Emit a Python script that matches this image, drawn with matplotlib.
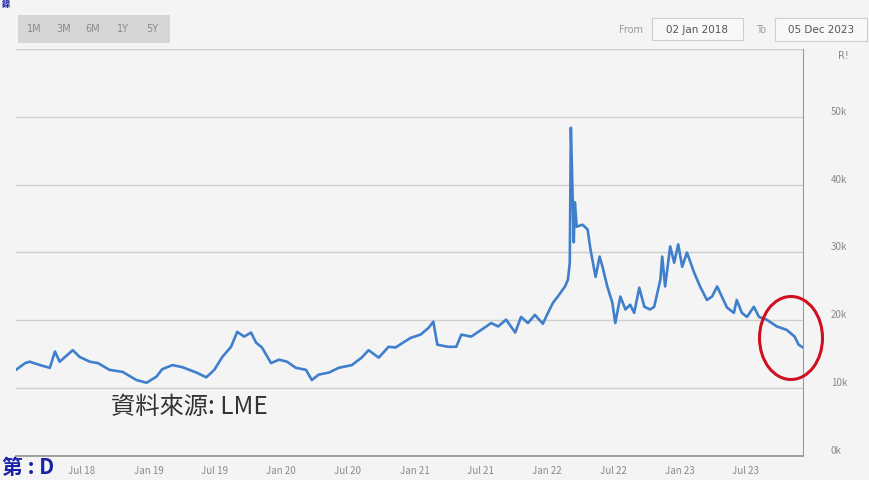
import matplotlib
matplotlib.use('Agg')
import matplotlib.pyplot as plt
from matplotlib.patches import Ellipse, Rectangle
import pandas as pd

plt.rcParams['font.family'] = ['Noto Sans CJK TC', 'DejaVu Sans']

# LME nickel price (USD/t)
dates = [
    '2018-01-02', '2018-01-27', '2018-02-09', '2018-03-09', '2018-04-05', '2018-04-19',
    '2018-05-02', '2018-06-07', '2018-06-26', '2018-07-24', '2018-08-15', '2018-09-16',
    '2018-10-22', '2018-11-29', '2018-12-27', '2019-01-23', '2019-02-08', '2019-03-08',
    '2019-04-04', '2019-05-13', '2019-06-09', '2019-07-01', '2019-07-23', '2019-08-16',
    '2019-09-02', '2019-09-21', '2019-10-10', '2019-10-24', '2019-11-09', '2019-12-04',
    '2019-12-26', '2020-01-17', '2020-02-10', '2020-03-09', '2020-03-25', '2020-04-13',
    '2020-05-11', '2020-06-07', '2020-07-13', '2020-08-09', '2020-08-28', '2020-09-25',
    '2020-10-22', '2020-11-10', '2020-12-21', '2021-01-18', '2021-02-09', '2021-02-22',
    '2021-03-05', '2021-04-04', '2021-04-26', '2021-05-10', '2021-06-06', '2021-07-04',
    '2021-07-31', '2021-08-19', '2021-09-10', '2021-10-05', '2021-10-21', '2021-11-09',
    '2021-11-28', '2021-12-20', '2022-01-03', '2022-01-17', '2022-01-30', '2022-02-19',
    '2022-02-27', '2022-03-04', '2022-03-07', '2022-03-11', '2022-03-15', '2022-03-18',
    '2022-03-23', '2022-04-08', '2022-04-22', '2022-04-30', '2022-05-14', '2022-05-25',
    '2022-06-02', '2022-06-15', '2022-06-29', '2022-07-07', '2022-07-21', '2022-08-04',
    '2022-08-17', '2022-08-28', '2022-09-11', '2022-09-25', '2022-10-11', '2022-10-22',
    '2022-11-08', '2022-11-13', '2022-11-21', '2022-12-05', '2022-12-16', '2022-12-27',
    '2023-01-07', '2023-01-20', '2023-02-09', '2023-02-25', '2023-03-16', '2023-03-30',
    '2023-04-13', '2023-04-26', '2023-05-10', '2023-05-29', '2023-06-06', '2023-06-20',
    '2023-07-04', '2023-07-23', '2023-08-06', '2023-08-27', '2023-09-24', '2023-10-21',
    '2023-11-12', '2023-11-23', '2023-12-05',
]
prices = [
    12700, 13700, 13900, 13400, 13000, 15400,
    13900, 15600, 14600, 13900, 13700, 12700,
    12400, 11200, 10800, 11700, 12800, 13400,
    13100, 12300, 11600, 12700, 14600, 16100,
    18300, 17600, 18200, 16700, 16000, 13700,
    14200, 13900, 13000, 12700, 11200, 12000,
    12300, 13000, 13400, 14500, 15600, 14500,
    16100, 16000, 17400, 17900, 18900, 19800,
    16400, 16100, 16100, 17900, 17600, 18600,
    19600, 19100, 20100, 18200, 20500, 19600,
    20800, 19500, 21100, 22600, 23500, 25000,
    26000, 28500, 48400, 40000, 31500, 37400,
    33800, 34100, 33400, 30400, 26400, 29400,
    27900, 25000, 22600, 19600, 23500, 21600,
    22300, 21100, 24800, 22000, 21600, 22000,
    26000, 29400, 25000, 30900, 28500, 31200,
    27900, 30000, 27000, 25000, 23000, 23500,
    25000, 23500, 21900, 21100, 23000, 21100,
    20500, 22000, 20500, 20100, 19100, 18600,
    17600, 16400, 16000,
]

tick_dates = pd.date_range('2018-07-01', '2023-07-01', freq='6MS')
tick_labels = [d.strftime('%b %y') for d in tick_dates]
y_ticks = [0, 10000, 20000, 30000, 40000, 50000, 60000]
y_labels = ['0k', '10k', '20k', '30k', '40k', '50k', '']
range_buttons = ['1M', '3M', '6M', '1Y', '5Y']

W, H = 869, 480
bg = '#f4f4f4'
fig = plt.figure(figsize=(W / 100, H / 100), dpi=100, facecolor=bg)


def fx(x):
    return x / W


def fy(y):
    return 1 - y / H


ax = fig.add_axes([fx(16), fy(456), fx(787), 407 / H])
ax.set_facecolor(bg)
ax.plot(pd.to_datetime(dates), prices, color='#3f7fcc', lw=1.9)
ax.set_xlim(pd.Timestamp('2018-01-02'), pd.Timestamp('2023-12-05'))
ax.set_ylim(0, 60000)

ax.set_xticks(tick_dates)
ax.set_xticklabels(tick_labels)
ax.set_yticks(y_ticks)
ax.set_yticklabels(y_labels)
ax.yaxis.tick_right()
ax.tick_params(axis='x', length=0, pad=7, labelsize=7, labelcolor='#8a8a8a')
ax.tick_params(axis='y', length=0, pad=20, labelsize=7, labelcolor='#8a8a8a')
for lab in ax.get_yticklabels():
    lab.set_verticalalignment('bottom')
for lab in ax.get_xticklabels():
    lab.set_fontstyle('italic')
ax.grid(axis='y', color='#cfcfcf', lw=1)
ax.set_axisbelow(True)
ax.spines['left'].set_visible(False)
ax.spines['top'].set_visible(False)
ax.spines['right'].set_color('#9a9a9a')
ax.spines['bottom'].set_color('#9a9a9a')
ax.spines['bottom'].set_linewidth(1.3)

# range selector buttons
fig.patches.append(Rectangle((fx(18), fy(43)), fx(152), 28 / H, transform=fig.transFigure,
                             facecolor='#d6d6d6', edgecolor='none'))
for i, b in enumerate(range_buttons):
    fig.text(fx(34 + i * 29.5), fy(29), b, fontsize=7, color='#8a8a8a', ha='center', va='center',
             family='DejaVu Sans')

# date range inputs
fig.text(fx(631), fy(30), 'From', fontsize=7, color='#9a9a9a', ha='center', va='center', family='DejaVu Sans')
fig.patches.append(Rectangle((fx(652), fy(40)), fx(91), 22 / H, transform=fig.transFigure,
                             facecolor='#f8f8f8', edgecolor='#cfcfcf', lw=0.8))
fig.text(fx(697), fy(30), '02 Jan 2018', fontsize=7.5, color='#555555', ha='center', va='center',
         family='DejaVu Sans')
fig.text(fx(761), fy(30), 'To', fontsize=7, color='#9a9a9a', ha='center', va='center', family='DejaVu Sans')
fig.patches.append(Rectangle((fx(775), fy(41)), fx(92), 23 / H, transform=fig.transFigure,
                             facecolor='#f8f8f8', edgecolor='#cfcfcf', lw=0.8))
fig.text(fx(821), fy(30), '05 Dec 2023', fontsize=7.5, color='#555555', ha='center', va='center',
         family='DejaVu Sans')
fig.text(fx(843), fy(56), 'R!', fontsize=7, color='#8a8a8a', ha='center', va='center', family='DejaVu Sans')

# source note
fig.text(fx(111), fy(407), '資料來源: LME', fontsize=17.5, color='#333333', ha='left', va='center')

# red circle around the latest prices
fig.patches.append(Ellipse((fx(791), fy(338)), fx(63), 83 / H, transform=fig.transFigure,
                           facecolor='none', edgecolor='#d01020', lw=2.2))

# slide text at the edges
fig.text(fx(2), fy(478), '第 : D', fontsize=15, color='#1a23a8', fontweight='bold', ha='left', va='bottom')
fig.text(fx(2), fy(9), '鎳', fontsize=6, color='#1a23a8', fontweight='bold', ha='left', va='bottom')

fig.savefig('out.png', dpi=100, facecolor=bg)
